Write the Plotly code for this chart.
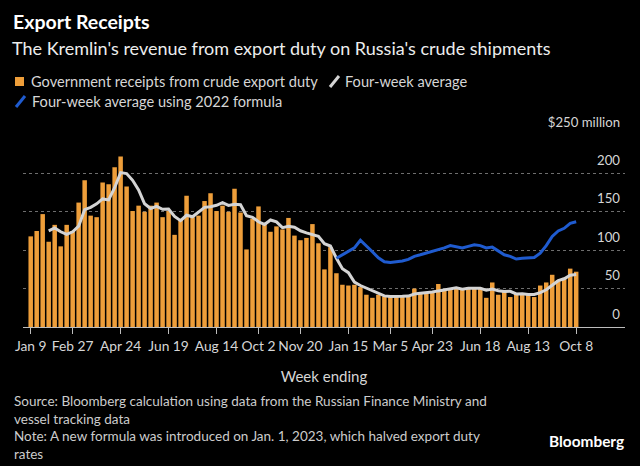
import pandas as pd
import plotly.graph_objects as go

# ---------------- data ----------------
WEEK_START = "2022-01-09"
N_WEEKS = 92
WEEKS = pd.date_range(WEEK_START, periods=N_WEEKS, freq="7D")

# Government receipts from crude export duty, $ million per week
RECEIPTS = [
    118, 125, 147, 111, 133, 105, 133, 125, 162, 191,
    145, 143, 188, 186, 208, 222, 183, 151, 158, 150,
    158, 162, 143, 151, 120, 140, 171, 143, 145, 164,
    174, 151, 158, 150, 180, 149, 101, 141, 157, 135,
    124, 131, 127, 142, 119, 113, 116, 134, 109, 75,
    104, 70, 55, 54, 55, 52, 42, 38, 42, 40,
    39, 40, 41, 41, 50, 43, 44, 45, 56, 48,
    50, 50, 49, 52, 50, 51, 38, 58, 42, 47,
    39, 44, 43, 43, 39, 54, 58, 68, 61, 64,
    76, 72,
]

# Four-week average (starts at 4th week)
AVG4 = [None, None, None,
    125.3, 129.0, 124.0, 120.5, 124.0, 131.3, 152.8, 155.8, 160.3, 166.8,
    165.5, 181.3, 201.0, 199.8, 191.0, 178.5, 160.5, 154.3, 157.0, 153.3,
    153.5, 144.0, 138.5, 145.5, 143.5, 149.8, 155.8, 156.5, 158.5, 161.8,
    158.3, 159.8, 159.3, 145.0, 142.8, 137.0, 133.5, 139.3, 136.8, 129.3,
    131.0, 129.8, 125.3, 122.5, 120.5, 118.0, 108.5, 105.5, 89.5, 76.0,
    70.8, 58.5, 54.0, 50.8, 46.8, 43.5, 40.5, 39.8, 40.3, 40.0,
    40.3, 43.0, 43.8, 44.5, 45.5, 47.0, 48.3, 49.8, 51.0, 49.3,
    50.3, 50.3, 50.5, 47.8, 49.3, 47.3, 46.3, 46.5, 43.0, 43.3,
    42.3, 42.3, 44.8, 48.5, 54.8, 60.3, 62.8, 67.3, 68.3,
]

# Four-week average using 2022 formula (from week ending Jan 1, 2023)
AVG4_2022 = [None] * 51 + [
    89.5, 94, 98, 103, 113, 106, 98, 90, 85, 84,
    85, 86, 88, 92, 94, 96, 99, 101, 103, 106,
    104.5, 103, 105, 107, 106, 103, 104, 99, 94, 92,
    88.5, 89.5, 90, 90.5, 96, 106, 118, 125, 128.5, 135,
    137,
]

TICK_DATES = ["2022-01-09", "2022-02-27", "2022-04-24", "2022-06-19", "2022-08-14",
              "2022-10-02", "2022-11-20", "2023-01-15", "2023-03-05", "2023-04-23",
              "2023-06-18", "2023-08-13", "2023-10-08"]
TICK_LABELS = ["Jan 9", "Feb 27", "Apr 24", "Jun 19", "Aug 14", "Oct 2", "Nov 20",
               "Jan 15", "Mar 5", "Apr 23", "Jun 18", "Aug 13", "Oct 8"]
Y_TICKS = [0, 50, 100, 150, 200, 250]
Y_LABELS = ["0", "50", "100", "150", "200", "$250 million"]

LEGEND_NAMES = ["Government receipts from crude export duty", "Four-week average",
                "Four-week average using 2022 formula"]
FOOTNOTE_LINES = [
    "Source: Bloomberg calculation using data from the Russian Finance Ministry and",
    "vessel tracking data",
    "Note: A new formula was introduced on Jan. 1, 2023, which halved export duty",
    "rates",
]

# ---------------- style ----------------
W, H = 640, 466
L, R = 23, 15
TOP, BOTTOM = 135, 327           # pixel rows of y=250 and y=0
FONT = "Lato"
ORANGE = "#EE9E3A"
GREY = "#D4D4D4"
BLUE = "#1F5BCF"
TEXT = "#D6D6D6"

PW = W - L - R
PH = BOTTOM - TOP


def px(x):
    return (x - L) / PW


def py(y):
    return (BOTTOM - y) / PH


fig = go.Figure()
fig.add_trace(go.Bar(x=WEEKS, y=RECEIPTS, marker=dict(color=ORANGE, line=dict(width=0)),
                     name=LEGEND_NAMES[0]))
fig.add_trace(go.Scatter(x=WEEKS, y=AVG4, mode="lines", line=dict(color=GREY, width=3),
                         name=LEGEND_NAMES[1]))
fig.add_trace(go.Scatter(x=WEEKS, y=AVG4_2022, mode="lines", line=dict(color=BLUE, width=3),
                         name=LEGEND_NAMES[2]))

fig.update_layout(
    width=W, height=H,
    margin=dict(l=L, r=R, t=TOP, b=H - BOTTOM, pad=0, autoexpand=False),
    paper_bgcolor="#000000", plot_bgcolor="#000000",
    font=dict(family=FONT, color=TEXT, size=13),
    bargap=0.25,
    showlegend=False,
    xaxis=dict(type="date", range=["2021-12-31", "2023-12-04"],
               tickmode="array", tickvals=TICK_DATES, ticktext=TICK_LABELS,
               tickangle=0,
               showgrid=False, showline=True, linecolor="#BDBDBD", linewidth=1,
               ticks="outside", ticklen=6, tickcolor="#BDBDBD", tickwidth=1,
               tickfont=dict(size=13.8, color=TEXT), zeroline=False,
               ticklabeloverflow="allow",
               title=dict(text="Week ending", font=dict(size=15, color=TEXT), standoff=18)),
    yaxis=dict(range=[0, 250], side="right", tickmode="array", tickvals=Y_TICKS,
               ticktext=Y_LABELS, ticklabelposition="inside", ticklabelshift=-13,
               ticklabelstandoff=2, ticklabeloverflow="allow",
               showgrid=True, gridcolor="#6E6E6E", griddash="dot", gridwidth=1,
               zeroline=False, showline=False, ticks="",
               tickfont=dict(size=13.2, color=TEXT)),
)

ann = [
    dict(text="<b>Export Receipts</b>", x=px(11), y=py(22), font=dict(size=19.5, color="#FFFFFF")),
    dict(text="The Kremlin's revenue from export duty on Russia's crude shipments",
         x=px(10), y=py(48), font=dict(size=18, color="#EDEDED")),
    dict(text=LEGEND_NAMES[0], x=px(29), y=py(81), font=dict(size=14.6, color=TEXT)),
    dict(text=LEGEND_NAMES[1], x=px(343), y=py(81), font=dict(size=14.6, color=TEXT)),
    dict(text=LEGEND_NAMES[2], x=px(30), y=py(101), font=dict(size=14.6, color=TEXT)),
    dict(text="<br>".join(FOOTNOTE_LINES), x=px(12), y=py(391), yanchor="top",
         font=dict(size=13.5, color="#CCCCCC")),
]
for a in ann:
    a.setdefault("yanchor", "middle")
    fig.add_annotation(xref="paper", yref="paper", xanchor="left",
                       showarrow=False, align="left", **a)
fig.add_annotation(text="<b>Bloomberg</b>", xref="paper", yref="paper", x=px(626), y=py(441),
                   xanchor="right", yanchor="middle", showarrow=False,
                   font=dict(size=15.4, color="#FFFFFF"))

# legend swatches
fig.add_shape(type="rect", xref="paper", yref="paper", x0=px(15), x1=px(24), y0=py(86), y1=py(77),
              fillcolor=ORANGE, line=dict(width=0))
fig.add_shape(type="line", xref="paper", yref="paper", x0=px(330), x1=px(339), y0=py(87), y1=py(76),
              line=dict(color=GREY, width=3))
fig.add_shape(type="line", xref="paper", yref="paper", x0=px(16), x1=px(25), y0=py(107), y1=py(96),
              line=dict(color=BLUE, width=3))

fig.write_html("out.html", config={"displayModeBar": False},
               post_script="document.body.style.margin='0';document.body.style.background='#000';")
